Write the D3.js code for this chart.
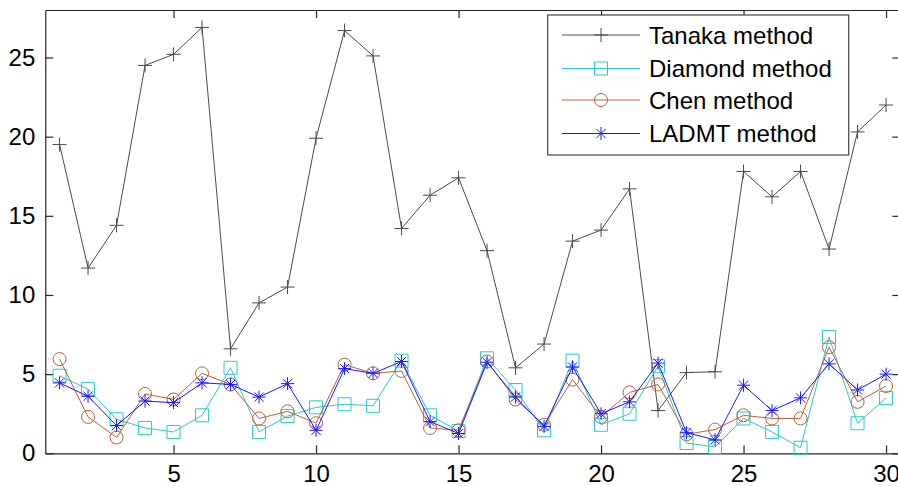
<!DOCTYPE html>
<html>
<head>
<meta charset="utf-8">
<script src="https://cdn.jsdelivr.net/npm/d3@7/dist/d3.min.js"></script>
<style>
  html, body { margin: 0; padding: 0; background: #fff; }
  svg { display: block; }
  text { font-family: "Liberation Sans", Arial, sans-serif; }
</style>
</head>
<body>
<svg id="chart" width="898" height="486"></svg>
<script>
const xValues = d3.range(1, 31);
const tanaka  = [19.5, 11.7, 14.4, 24.5, 25.2, 26.9, 6.6, 9.5, 10.5, 19.9, 26.7, 25.1, 14.2, 16.3, 17.4, 12.8, 5.4, 6.9, 13.4, 14.1, 16.7, 2.7, 5.1, 5.15, 17.8, 16.2, 17.8, 12.9, 20.3, 22.0];
const diamond = [4.9, 4.05, 2.15, 1.6, 1.35, 2.4, 5.4, 1.35, 2.35, 2.9, 3.1, 3.0, 5.85, 2.4, 1.4, 6.0, 4.0, 1.45, 5.85, 1.8, 2.5, 5.5, 0.65, 0.4, 2.2, 1.35, 0.35, 7.35, 1.9, 3.5];
const chen    = [5.95, 2.3, 1.0, 3.75, 3.4, 5.05, 4.35, 2.2, 2.65, 1.9, 5.6, 5.05, 5.2, 1.6, 1.45, 5.8, 3.4, 1.8, 4.65, 2.3, 3.85, 4.35, 1.2, 1.5, 2.4, 2.2, 2.2, 6.7, 3.25, 4.25];
const ladmt   = [4.45, 3.6, 1.75, 3.3, 3.2, 4.45, 4.35, 3.55, 4.4, 1.45, 5.35, 5.05, 5.8, 2.0, 1.25, 5.75, 3.55, 1.7, 5.45, 2.5, 3.25, 5.7, 1.3, 0.85, 4.3, 2.7, 3.5, 5.65, 4.0, 5.0];
const xTicks = [5, 10, 15, 20, 25, 30];
const yTicks = [0, 5, 10, 15, 20, 25];
const seriesNames = ["Tanaka method", "Diamond method", "Chen method", "LADMT method"];

const series = [
  { name: seriesNames[0], values: tanaka,  color: "#4a4a4a", marker: "plus" },
  { name: seriesNames[1], values: diamond, color: "#2ec8c8", marker: "square" },
  { name: seriesNames[2], values: chen,    color: "#b8643c", marker: "circle" },
  { name: seriesNames[3], values: ladmt,   color: "#1a1aff", marker: "star" }
];

const svg = d3.select("#chart");
const L = 45.3, R = 900.3, T = 10, B = 453.3;
const x = d3.scaleLinear().domain([0.5, 30.5]).range([L, R]);
const y = d3.scaleLinear().domain([0, 28]).range([B, T]);

const axisColor = "#262626";
function styleAxis(g) {
  g.selectAll("path.domain").attr("stroke", axisColor).attr("stroke-width", 1.2);
  g.selectAll(".tick line").attr("stroke", axisColor).attr("stroke-width", 1.2);
  g.selectAll(".tick text").attr("fill", "#000").style("font-size", "24px")
    .style("font-family", "'Liberation Sans', Arial, sans-serif");
}

svg.append("g").attr("transform", `translate(0,${B})`)
  .call(d3.axisBottom(x).tickValues(xTicks).tickSize(-8).tickPadding(12).tickSizeOuter(0))
  .call(styleAxis);
svg.append("g").attr("transform", `translate(0,${T})`)
  .call(d3.axisTop(x).tickValues(xTicks).tickSize(-8).tickFormat("").tickSizeOuter(0))
  .call(styleAxis);
svg.append("g").attr("transform", `translate(${L},0)`)
  .call(d3.axisLeft(y).tickValues(yTicks).tickSize(-8).tickPadding(10).tickSizeOuter(0))
  .call(styleAxis);
svg.append("g").attr("transform", `translate(${R},0)`)
  .call(d3.axisRight(y).tickValues(yTicks).tickSize(-8).tickFormat("").tickSizeOuter(0))
  .call(styleAxis);
svg.selectAll(".domain").attr("fill", "none");

function markerPath(type) {
  if (type === "plus") return "M-7,0H7M0,-7V7";
  if (type === "square") return "M-6.5,-6.5H6.5V6.5H-6.5Z";
  if (type === "circle") return d3.symbol().type(d3.symbolCircle).size(Math.PI * 6.5 * 6.5)();
  if (type === "star") return "M-6.5,0H6.5M0,-6.5V6.5M-4.6,-4.6L4.6,4.6M-4.6,4.6L4.6,-4.6";
}

const line = d3.line().x((d, i) => x(xValues[i])).y(d => y(d));
const plot = svg.append("g");
series.forEach(s => {
  const g = plot.append("g");
  g.append("path").datum(s.values).attr("d", line)
    .attr("fill", "none").attr("stroke", s.color).attr("stroke-width", 1);
  g.selectAll("path.m").data(s.values).enter().append("path").attr("class", "m")
    .attr("transform", (d, i) => `translate(${x(xValues[i])},${y(d)})`)
    .attr("d", markerPath(s.marker))
    .attr("fill", "none").attr("stroke", s.color).attr("stroke-width", 1);
});

// Legend
const leg = svg.append("g");
leg.append("rect").attr("x", 547.7).attr("y", 15).attr("width", 301).attr("height", 140)
  .attr("fill", "#fff").attr("stroke", "#444").attr("stroke-width", 1.2);
const rowY = [35, 68.5, 100, 133.5];
series.forEach((s, i) => {
  const ry = rowY[i];
  leg.append("line").attr("x1", 562).attr("x2", 640).attr("y1", ry).attr("y2", ry)
    .attr("stroke", s.color).attr("stroke-width", 1);
  leg.append("path").attr("transform", `translate(601,${ry})`).attr("d", markerPath(s.marker))
    .attr("fill", "none").attr("stroke", s.color).attr("stroke-width", 1);
  leg.append("text").attr("x", 649).attr("y", ry).attr("dy", "0.36em")
    .style("font-size", "24px").attr("fill", "#000").text(s.name);
});
</script>
</body>
</html>
